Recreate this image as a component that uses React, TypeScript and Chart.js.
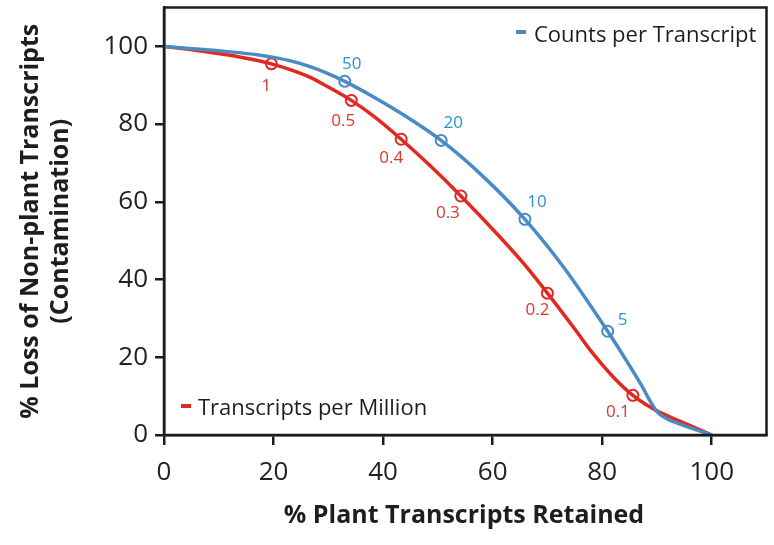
import React, { useEffect, useRef } from "react";
import { Chart, registerables } from "chart.js";

Chart.register(...registerables);

// Counts per Transcript (blue) curve
const cptX = [0, 5.2, 11.2, 17.3, 20.3, 23.3, 26.4, 29.4, 33.0, 38.5, 44.5, 50.6, 57.9, 65.9, 73.0, 81.0, 84, 87, 90, 91.8, 94.8, 100];
const cptY = [100, 99.4, 98.7, 97.8, 97.1, 96.2, 94.9, 93.3, 91.0, 86.8, 81.7, 75.8, 67.0, 55.5, 43.1, 26.7, 20.1, 13.2, 6.0, 4.2, 2.5, 0];
// marked thresholds on the blue curve
const cptMarkX = [33.0, 50.6, 65.9, 81.0];
const cptMarkY = [91.0, 75.8, 55.5, 26.7];
const cptMarkLabels = ["50", "20", "10", "5"];

// Transcripts per Million (red) curve
const tpmX = [0, 5.2, 11.2, 17.3, 19.6, 23.3, 26.4, 29.4, 34.2, 38.5, 43.3, 48.8, 54.2, 60.9, 65.8, 70.0, 75.5, 77.9, 82.1, 85.6, 90, 94.8, 100];
const tpmY = [100, 99.1, 97.9, 96.3, 95.5, 93.9, 92.2, 90.0, 86.1, 81.8, 76.1, 69.0, 61.5, 51.6, 43.9, 36.5, 26.3, 21.7, 14.8, 10.2, 6.2, 3.2, 0];
const tpmMarkX = [19.6, 34.2, 43.3, 54.2, 70.0, 85.6];
const tpmMarkY = [95.5, 86.1, 76.1, 61.5, 36.5, 10.2];
const tpmMarkLabels = ["1", "0.5", "0.4", "0.3", "0.2", "0.1"];

const xTicks = [0, 20, 40, 60, 80, 100];
const yTicks = [0, 20, 40, 60, 80, 100];

const xTitle = "% Plant Transcripts Retained";
const yTitle = ["% Loss of Non-plant Transcripts", "(Contamination)"];
const legendCpt = "Counts per Transcript";
const legendTpm = "Transcripts per Million";

// label placement (pixels, relative to the marker)
const cptLabelOffsets = [[7, -17], [12, -17], [12, -17], [15, -11]];
const tpmLabelOffsets = [[-5, 22], [-8, 21], [-10, 19], [-13, 17], [-10, 17], [-15, 17]];

const BLUE = "#4a8bc6";
const BLUE_TXT = "#2a93cf";
const RED = "#e2281f";
const RED_TXT = "#e0352b";
const AXIS = "#1c1c1c";
const FONT = "'Open Sans', 'Liberation Sans', sans-serif";

const zip = (xs: number[], ys: number[]) => xs.map((x, i) => ({ x, y: ys[i] }));

const decorPlugin = {
  id: "decor",
  afterDatasetsDraw(chart: any) {
    const { ctx, chartArea, scales } = chart;
    const xs = scales.x;
    const ys = scales.y;
    ctx.save();
    // frame
    ctx.strokeStyle = AXIS;
    ctx.lineWidth = 2.5;
    ctx.strokeRect(chartArea.left, chartArea.top, chartArea.right - chartArea.left, chartArea.bottom - chartArea.top);

    // point labels
    ctx.font = `17px ${FONT}`;
    ctx.textAlign = "center";
    ctx.textBaseline = "middle";
    ctx.fillStyle = BLUE_TXT;
    cptMarkLabels.forEach((t, i) => {
      const o = cptLabelOffsets[i];
      ctx.fillText(t, xs.getPixelForValue(cptMarkX[i]) + o[0], ys.getPixelForValue(cptMarkY[i]) + o[1]);
    });
    ctx.fillStyle = RED_TXT;
    tpmMarkLabels.forEach((t, i) => {
      const o = tpmLabelOffsets[i];
      ctx.fillText(t, xs.getPixelForValue(tpmMarkX[i]) + o[0], ys.getPixelForValue(tpmMarkY[i]) + o[1]);
    });

    // legends
    ctx.font = `22px ${FONT}`;
    ctx.textAlign = "left";
    ctx.fillStyle = "#1e1e1e";
    ctx.fillText(legendCpt, 534, 36);
    ctx.fillText(legendTpm, 198, 409);
    ctx.fillStyle = BLUE;
    ctx.fillRect(516, 30, 10, 4);
    ctx.fillStyle = RED;
    ctx.fillRect(181, 404, 10, 4);

    // axis titles
    ctx.fillStyle = "#1e1e1e";
    ctx.font = `bold 25px ${FONT}`;
    ctx.textAlign = "center";
    ctx.fillText(xTitle, 464, 516);
    const cy = (chartArea.top + chartArea.bottom) / 2;
    ctx.save();
    ctx.translate(31, cy);
    ctx.rotate(-Math.PI / 2);
    ctx.fillText(yTitle[0], 0, 0);
    ctx.restore();
    ctx.save();
    ctx.translate(61, cy);
    ctx.rotate(-Math.PI / 2);
    ctx.fillText(yTitle[1], 0, 0);
    ctx.restore();
    ctx.restore();
  },
};

export default function App() {
  const ref = useRef<HTMLCanvasElement>(null);
  useEffect(() => {
    if (!ref.current) return;
    const chart = new Chart(ref.current, {
      type: "line",
      data: {
        datasets: [
          {
            label: legendCpt,
            data: zip(cptX, cptY),
            borderColor: BLUE,
            borderWidth: 3.5,
            pointRadius: 0,
            cubicInterpolationMode: "monotone",
          },
          {
            label: legendTpm,
            data: zip(tpmX, tpmY),
            borderColor: RED,
            borderWidth: 3.5,
            pointRadius: 0,
            cubicInterpolationMode: "monotone",
          },
          {
            label: "cpt marks",
            data: zip(cptMarkX, cptMarkY),
            showLine: false,
            borderColor: BLUE,
            backgroundColor: "rgba(255,255,255,0)",
            pointRadius: 5.5,
            pointBorderWidth: 2,
          },
          {
            label: "tpm marks",
            data: zip(tpmMarkX, tpmMarkY),
            showLine: false,
            borderColor: RED,
            backgroundColor: "rgba(255,255,255,0)",
            pointRadius: 5.5,
            pointBorderWidth: 2,
          },
        ] as any,
      },
      options: {
        responsive: false,
        animation: false,
        layout: { padding: { left: 0, top: 5, right: 7, bottom: 0 } },
        plugins: { legend: { display: false }, tooltip: { enabled: false } },
        scales: {
          x: {
            type: "linear",
            min: 0,
            max: 110,
            afterFit: (s: any) => {
              s.height = 110;
              s.paddingLeft = 0;
              s.paddingRight = 0;
            },
            afterBuildTicks: (s: any) => {
              s.ticks = xTicks.map((v) => ({ value: v }));
            },
            grid: { drawOnChartArea: false, drawTicks: true, tickLength: 10, color: AXIS, lineWidth: 2.5 },
            border: { display: true, color: AXIS, width: 2.5 },
            ticks: { color: "#222", font: { family: FONT, size: 26 }, padding: 12, maxRotation: 0 },
          },
          y: {
            type: "linear",
            min: 0,
            max: 110,
            afterFit: (s: any) => {
              s.width = 164;
              s.paddingTop = 0;
              s.paddingBottom = 0;
            },
            afterBuildTicks: (s: any) => {
              s.ticks = yTicks.map((v) => ({ value: v }));
            },
            grid: { drawOnChartArea: false, drawTicks: true, tickLength: 9, color: AXIS, lineWidth: 2.5 },
            border: { display: true, color: AXIS, width: 2.5 },
            ticks: { color: "#222", font: { family: FONT, size: 26 }, padding: 7 },
          },
        },
      } as any,
      plugins: [decorPlugin],
    });
    return () => chart.destroy();
  }, []);
  return (
    <div style={{ position: "absolute", left: 0, top: 0, width: 774, height: 545, background: "#fff" }}>
      <canvas ref={ref} width={774} height={545} />
    </div>
  );
}
